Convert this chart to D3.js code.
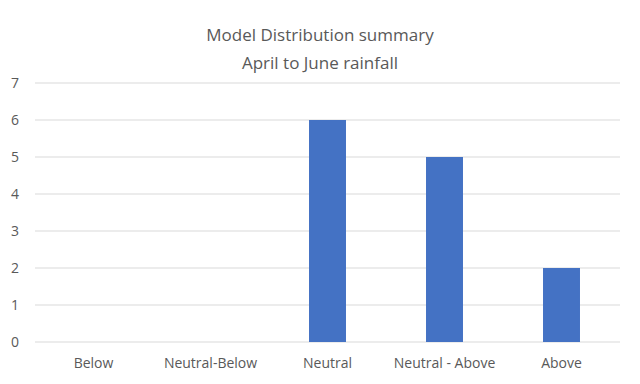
<!DOCTYPE html>
<html><head><meta charset="utf-8">
<script src="https://cdn.jsdelivr.net/npm/d3@7"></script>
<style>body{margin:0;background:#fff}svg{display:block}</style>
</head><body>
<svg id="c" width="640" height="384"></svg>
<script>
const categories = ["Below", "Neutral-Below", "Neutral", "Neutral - Above", "Above"];
const values = [0, 0, 6, 5, 2];
const yTicks = [0, 1, 2, 3, 4, 5, 6, 7];
const titleLines = ["Model Distribution summary", "April to June rainfall"];

const svg = d3.select("#c");
const font = "'Open Sans', 'Liberation Sans', sans-serif";
const textColor = "#595959";
const x = d3.scaleBand().domain(categories).range([35, 620]).paddingInner(0.684).paddingOuter(0.342);
const y = d3.scaleLinear().domain([0, 7]).range([342, 83]);

svg.append("g").selectAll("line").data(yTicks).join("line")
  .attr("x1", 35).attr("x2", 620)
  .attr("y1", d => y(d)).attr("y2", d => y(d))
  .attr("stroke", "#d9d9d9").attr("stroke-width", 1);

svg.append("g").selectAll("text").data(yTicks).join("text")
  .attr("x", 15).attr("y", d => y(d)).attr("dy", "0.35em")
  .attr("text-anchor", "middle").attr("font-family", font).attr("font-size", 14)
  .attr("fill", textColor).text(d => d);

svg.append("g").selectAll("rect").data(values).join("rect")
  .attr("x", (d, i) => x(categories[i]))
  .attr("width", x.bandwidth())
  .attr("y", d => y(d)).attr("height", d => y(0) - y(d))
  .attr("fill", "#4472C4");

svg.append("g").selectAll("text").data(categories).join("text")
  .attr("x", d => x(d) + x.bandwidth() / 2).attr("y", 368)
  .attr("text-anchor", "middle").attr("font-family", font).attr("font-size", 14)
  .attr("fill", textColor).text(d => d);

svg.append("g").selectAll("text").data(titleLines).join("text")
  .attr("x", 320).attr("y", (d, i) => 41 + i * 28)
  .attr("text-anchor", "middle").attr("font-family", font).attr("font-size", 17)
  .attr("fill", textColor).text(d => d);
</script>
</body></html>
